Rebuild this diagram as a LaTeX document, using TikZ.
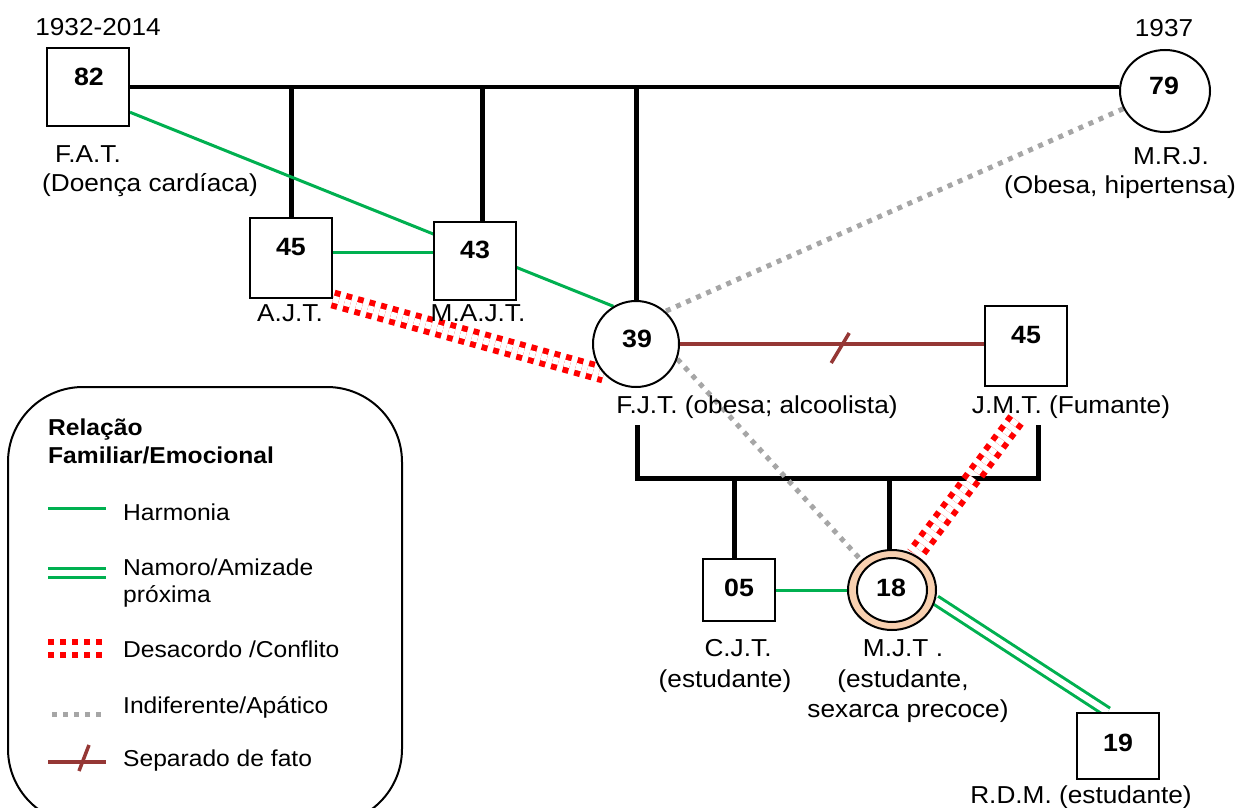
\documentclass[tikz,border=0pt]{standalone}
\usepackage{fontspec}
\setmainfont{Liberation Sans}[FakeStretch=1.07]
\usetikzlibrary{shapes.geometric}
\pgfdeclarelayer{bg}
\pgfsetlayers{bg,main}
\definecolor{hgreen}{RGB}{0,176,80}
\definecolor{sepbrown}{RGB}{149,55,53}
\definecolor{indgray}{RGB}{166,166,166}
\definecolor{confred}{RGB}{255,0,0}
\definecolor{peach}{RGB}{248,208,176}
\begin{document}
\begin{tikzpicture}[x=1pt,y=-1pt,
  lbl/.style={font=\fontsize{24.5}{29}\selectfont, inner sep=0pt, anchor=base},
  num/.style={font=\fontsize{25}{30}\selectfont\bfseries, inner sep=0pt, anchor=base},
  leg/.style={font=\fontsize{23}{27}\selectfont, inner sep=0pt, anchor=base west},
  legt/.style={font=\fontsize{23}{27}\selectfont\bfseries, inner sep=0pt, anchor=base west},
  male/.style={draw, line width=2pt, fill=white, rectangle, inner sep=0pt},
  female/.style={draw, line width=2pt, fill=white, ellipse, inner sep=0pt},
  fam/.style={line width=5pt, black},
  harm/.style={hgreen, line width=3pt},
  closerel/.style={hgreen, line width=3pt, double=white, double distance=6pt},
  confl/.style={confred, line width=6pt, double=white, double distance=7pt, dash pattern=on 6pt off 6pt},
  indif/.style={indgray, line width=5pt, dash pattern=on 5pt off 6pt},
  sepl/.style={sepbrown, line width=3.5pt},
]
\clip (0,0) rectangle (1250,808);

% persons
\node[male, minimum width=82pt, minimum height=78pt] (n82) at (88,87) {};
\node[female, minimum width=90pt, minimum height=82pt] (n79) at (1165,91) {};
\node[male, minimum width=82pt, minimum height=80pt] (n45a) at (291,258) {};
\node[male, minimum width=82pt, minimum height=78pt] (n43) at (475,261) {};
\node[female, minimum width=86pt, minimum height=86pt] (n39) at (636,344) {};
\node[male, minimum width=82pt, minimum height=80pt] (n45j) at (1026,346) {};
\node[male, minimum width=72pt, minimum height=62pt] (n05) at (739,590) {};
\node[female, fill=peach, minimum width=88pt, minimum height=80pt] (n18) at (892,590) {};
\node[female, minimum width=70pt, minimum height=64pt] (n18i) at (892,590) {};
\node[male, minimum width=82pt, minimum height=66pt] (n19) at (1118,746) {};

% ages
\node[num] (t82) at (89,85) {82};
\node[num] (t79) at (1164,95) {79};
\node[num] (t45a) at (291,255) {45};
\node[num] (t43) at (475,258) {43};
\node[num] (t39) at (637,347) {39};
\node[num] (t45j) at (1026,343) {45};
\node[num] (t05) at (739,596) {05};
\node[num] (t18) at (891,596) {18};
\node[num] (t19) at (1118,751) {19};

% labels
\node[lbl] (d82) at (98,36) {1932-2014};
\node[lbl] (l82a) at (88,162) {F.A.T.};
\node[lbl] (l82b) at (150,191) {(Doença cardíaca)};
\node[lbl] (d79) at (1164,37) {1937};
\node[lbl] (l79a) at (1171,164) {M.R.J.};
\node[lbl] (l79b) at (1120,193) {(Obesa, hipertensa)};
\node[lbl] (l45a) at (290,321) {A.J.T.};
\node[lbl] (l43) at (478,321) {M.A.J.T.};
\node[lbl] (l39) at (757,413) {F.J.T. (obesa; alcoolista)};
\node[lbl] (l45j) at (1071,413) {J.M.T. (Fumante)};
\node[lbl] (l05a) at (738,656) {C.J.T.};
\node[lbl] (l05b) at (725,687) {(estudante)};
\node[lbl] (l18a) at (903,656) {M.J.T .};
\node[lbl] (l18b) at (903,687) {(estudante,};
\node[lbl] (l18c) at (908,717) {sexarca precoce)};
\node[lbl] (l19) at (1081,803) {R.D.M. (estudante)};

\coordinate (bl) at (637,425);
\coordinate (br) at (1038,425);
\coordinate (bb) at (0,478);
\coordinate (cj) at (1016,420);

\begin{pgfonlayer}{bg}
  % family structure
  \draw[line width=4pt] (n82.east) -- (n82.east -| n79.west);
  \draw[fam] (n45a.north) -- (n45a.north |- n82.east);
  \draw[fam] ([xshift=7pt]n43.north) -- ([xshift=7pt]n43.north |- n82.east);
  \draw[fam] (n39.north) -- (n39.north |- n82.east);
  \draw[fam] (bl) -- (bl |- bb) -- (br |- bb) -- (br);
  \draw[fam] ([xshift=-5pt]n05.north) -- ([xshift=-5pt]n05.north |- bb);
  \draw[fam] ([xshift=-3pt]n18.north) -- ([xshift=-3pt]n18.north |- bb);
  % relationships
  \draw[harm] (n82.-31) -- (n39.121);
  \draw[harm] (n45a.8) -- (n45a.8 -| n43.west);
  \draw[harm] (n05.east) -- (n18.west);
  \draw[closerel] (n18.-13) -- (n19.107);
  \draw[confl] (n45a.south east) -- (n39.223);
  \draw[confl] (cj) -- (n18.57);
  \draw[indif] (n79.203) -- (n39.48);
  \draw[indif] (n39.-20) -- (n18.136);
  \draw[sepl] (n39.east) -- coordinate[pos=0.527] (sp) (n39.east -| n45j.west);
  \draw[sepl] (sp) ++(-9,19) -- ++(18,-30);
\end{pgfonlayer}

% legend
\draw[line width=2pt, rounded corners=75pt] (8,387) rectangle (402,824);
\node[legt] (lgt1) at (48,435) {Relação};
\node[legt] (lgt2) at (48,463) {Familiar/Emocional};
\draw[harm] (48,508) -- (106,508);
\node[leg] (lg1) at (123,520) {Harmonia};
\draw[closerel] (48,572.5) -- (106,572.5);
\node[leg] (lg2) at (123,575) {Namoro/Amizade};
\node[leg] (lg2b) at (123,602) {próxima};
\draw[confl] (48,648) -- (102,648);
\node[leg] (lg3) at (123,657) {Desacordo /Conflito};
\draw[indif] (52,714) -- (106,714);
\node[leg] (lg4) at (123,713) {Indiferente/Apático};
\draw[sepl] (48,762) -- (106,762);
\draw[sepl] (79,771) -- (89,745);
\node[leg] (lg5) at (123,766) {Separado de fato};
\end{tikzpicture}
\end{document}
